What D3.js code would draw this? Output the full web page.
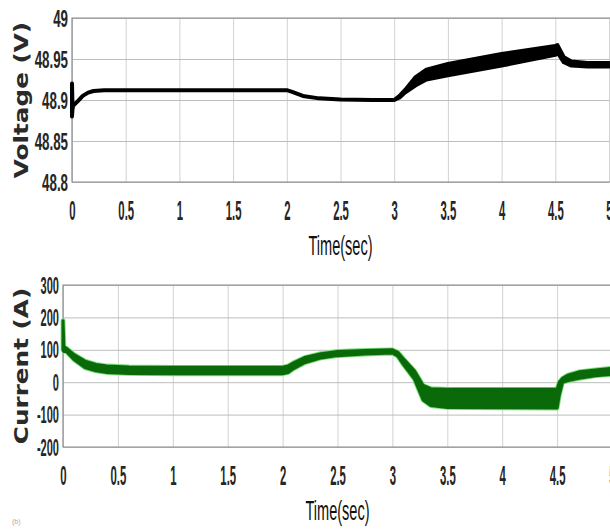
<!DOCTYPE html>
<html>
<head>
<meta charset="utf-8">
<script src="https://cdn.jsdelivr.net/npm/d3@7"></script>
<style>
  body { margin: 0; background: #fff; }
  svg { display: block; font-family: "Liberation Sans", Arial, sans-serif; }
</style>
</head>
<body>
<svg id="chart"></svg>
<script>
// x ticks shared by both panels
const timeTicks = [0, 0.5, 1, 1.5, 2, 2.5, 3, 3.5, 4, 4.5, 5];
const voltTicks = [48.8, 48.85, 48.9, 48.95, 49];
const currTicks = [-200, -100, 0, 100, 200, 300];

// voltage trace: lower / upper envelope of the ripple
const voltTime = [0, 0.004, 0.01, 0.05, 0.1, 0.15, 0.2, 0.3, 0.5, 1, 1.5, 2, 2.05, 2.15, 2.3, 2.5, 2.8, 3, 3.05, 3.1, 3.2, 3.3, 3.5, 4, 4.5, 4.52, 4.58, 4.65, 4.8, 5];
const voltLow  = [48.88, 48.888, 48.893, 48.898, 48.905, 48.909, 48.911, 48.912, 48.912, 48.912, 48.912, 48.912, 48.91, 48.905, 48.902, 48.9005, 48.9, 48.9, 48.903, 48.909, 48.918, 48.925, 48.93, 48.942, 48.955, 48.958, 48.946, 48.942, 48.941, 48.941];
const voltHigh = [48.92, 48.895, 48.893, 48.898, 48.905, 48.909, 48.911, 48.912, 48.912, 48.912, 48.912, 48.912, 48.91, 48.905, 48.902, 48.9005, 48.9, 48.9, 48.905, 48.912, 48.928, 48.937, 48.944, 48.956, 48.966, 48.967, 48.952, 48.947, 48.945, 48.945];

// current trace: lower / upper envelope
const currTime = [0, 0.008, 0.03, 0.1, 0.2, 0.3, 0.4, 0.6, 1, 1.5, 2, 2.05, 2.1, 2.2, 2.35, 2.5, 2.75, 3, 3.05, 3.1, 3.2, 3.28, 3.35, 3.5, 4, 4.5, 4.52, 4.55, 4.6, 4.7, 4.85, 5];
const currLow  = [100, 95, 95, 70, 45, 35, 30, 27, 26, 26, 26, 30, 42, 60, 75, 82, 87, 90, 80, 55, 10, -55, -72, -78, -79, -80, -40, 0, 5, 12, 20, 24];
const currHigh = [190, 110, 105, 85, 65, 55, 50, 47, 46, 46, 46, 50, 60, 76, 88, 95, 98, 100, 92, 72, 35, -10, -20, -22, -22, -22, 0, 12, 22, 32, 38, 43];

class SimPlot {
    constructor(_config, _data) {
        this.config = {
            parent: _config.parent,
            left: _config.left,
            right: _config.right,
            top: _config.top,
            bottom: _config.bottom,
            yDomain: _config.yDomain,
            yTicks: _config.yTicks,
            yLabel: _config.yLabel,
            yLabelY: _config.yLabelY,
            yLabelStretch: _config.yLabelStretch || 1.3,
            yTickScale: _config.yTickScale || 0.6,
            fill: _config.fill,
            lineWidth: _config.lineWidth || 3,
            edge: _config.edge
        };
        this.data = _data;
        this.initVis();
    }

    initVis() {
        let vis = this;
        let c = vis.config;
        vis.width = c.right - c.left;
        vis.height = c.bottom - c.top;

        vis.x = d3.scaleLinear().domain([0, 5]).range([c.left, c.right]);
        vis.y = d3.scaleLinear().domain(c.yDomain).range([c.bottom, c.top]);

        vis.g = c.parent.append('g');
        vis.renderVis();
    }

    renderVis() {
        let vis = this;
        let c = vis.config;

        // grid
        vis.g.append('g')
            .attr('transform', `translate(0,${c.bottom})`)
            .call(d3.axisBottom(vis.x).tickValues(timeTicks).tickSize(-vis.height).tickFormat(''))
            .call(g => g.select('.domain').remove())
            .call(g => g.selectAll('line').attr('stroke', '#d2d2d2'));
        vis.g.append('g')
            .attr('transform', `translate(${c.left},0)`)
            .call(d3.axisLeft(vis.y).tickValues(c.yTicks).tickSize(-vis.width).tickFormat(''))
            .call(g => g.select('.domain').remove())
            .call(g => g.selectAll('line').attr('stroke', '#bdbdbd'));

        // frame
        vis.g.append('path')
            .attr('d', `M${c.right + 5},${c.top}H${c.left}V${c.bottom}H${c.right + 5}`)
            .attr('fill', 'none')
            .attr('stroke', '#8a8a8a')
            .attr('stroke-width', 1.2);

        // trace
        let pts = vis.data.time.map((t, i) => ({t: t, lo: vis.data.low[i], hi: vis.data.high[i]}));
        let area = d3.area()
            .x(d => vis.x(d.t))
            .y0(d => vis.y(d.lo))
            .y1(d => vis.y(d.hi));
        if (c.edge) {
            vis.g.append('path').datum(pts)
                .attr('d', area)
                .attr('fill', c.edge)
                .attr('stroke', c.edge)
                .attr('stroke-width', c.lineWidth + 1.8)
                .attr('stroke-linejoin', 'round');
        }
        vis.g.append('path').datum(pts)
            .attr('d', area)
            .attr('fill', c.fill)
            .attr('stroke', c.fill)
            .attr('stroke-width', c.lineWidth)
            .attr('stroke-linejoin', 'round');

        // axis labels
        let xAx = vis.g.append('g')
            .attr('transform', `translate(0,${c.bottom})`)
            .call(d3.axisBottom(vis.x).tickValues(timeTicks).tickSize(0).tickFormat(d => String(d)));
        xAx.select('.domain').remove();
        xAx.selectAll('text')
            .attr('y', 38).attr('dy', 0)
            .attr('font-size', 27)
            .attr('font-weight', 'bold')
            .attr('fill', '#262626')
            .attr('transform', 'scale(0.42,1)');

        let yAx = vis.g.append('g')
            .attr('transform', `translate(${c.left},0)`)
            .call(d3.axisLeft(vis.y).tickValues(c.yTicks).tickSize(0).tickFormat(d => String(d)));
        yAx.select('.domain').remove();
        yAx.selectAll('text')
            .attr('x', -4 / c.yTickScale)
            .attr('dy', '0.35em')
            .attr('font-size', 23)
            .attr('font-weight', 'bold')
            .attr('fill', '#262626')
            .attr('transform', `scale(${c.yTickScale},1)`);

        vis.g.append('text')
            .attr('transform', `translate(${(c.left + c.right) / 2},${c.bottom + 73}) scale(0.52,1)`)
            .attr('text-anchor', 'middle')
            .attr('font-size', 28)
            .attr('fill', '#111')
            .text('Time(sec)');

        vis.g.append('text')
            .attr('transform', `translate(28,${c.yLabelY}) rotate(-90) scale(${c.yLabelStretch},1)`)
            .attr('text-anchor', 'middle')
            .attr('font-family', '"DejaVu Sans", sans-serif')
            .attr('font-size', 19)
            .attr('font-weight', 'bold')
            .attr('fill', '#2a2a2a')
            .text(c.yLabel);
    }
}

const svg = d3.select('#chart')
    .attr('width', 610)
    .attr('height', 530);
svg.append('rect').attr('width', 610).attr('height', 530).attr('fill', '#fff');

new SimPlot({
    parent: svg, left: 72, right: 609, top: 18, bottom: 182,
    yDomain: [48.8, 49], yTicks: voltTicks,
    yLabel: 'Voltage (V)', yLabelY: 100, yLabelStretch: 1.3,
    yTickScale: 0.58, fill: '#000', lineWidth: 4
}, {time: voltTime, low: voltLow, high: voltHigh});

new SimPlot({
    parent: svg, left: 63, right: 612, top: 285, bottom: 447,
    yDomain: [-200, 300], yTicks: currTicks,
    yLabel: 'Current (A)', yLabelY: 366, yLabelStretch: 1.3,
    yTickScale: 0.48, fill: '#0a6a0a', lineWidth: 3, edge: '#7be07b'
}, {time: currTime, low: currLow, high: currHigh});

svg.append('text')
    .attr('x', 12).attr('y', 524)
    .attr('font-size', 7)
    .attr('fill', '#aaa')
    .text('(b)');
</script>
</body>
</html>
